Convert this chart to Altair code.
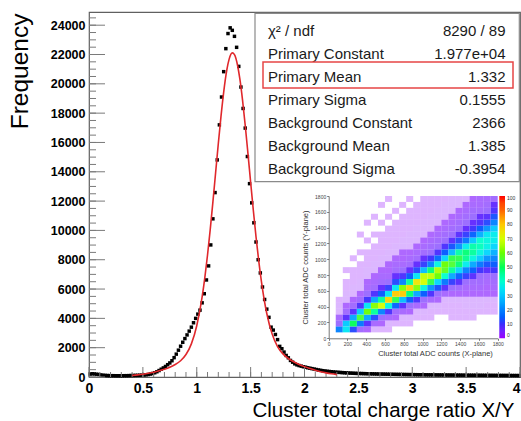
import altair as alt
import pandas as pd

FONT = "Liberation Sans"

# ---------------- main histogram (bin width 0.02 from 0 to 4) ----------------
BIN_START = 0.0
BIN_WIDTH = 0.02
COUNTS = [
    200, 220, 210, 190, 170, 140, 120, 110, 100, 95,
    90, 90, 85, 85, 85, 85, 90, 90, 95, 100,
    105, 110, 115, 120, 125, 135, 150, 170, 200, 240,
    290, 360, 440, 530, 620, 720, 840, 960, 1110, 1320,
    1560, 1830, 2100, 2370, 2620, 2870, 3130, 3400, 3700, 4000,
    4290, 4560, 5060, 5680, 6620, 7580, 9010, 10790, 12580, 14810,
    17200, 19100, 20830, 22400, 23430, 23820, 23650, 23240, 22490, 21190,
    19780, 18320, 16980, 15040, 13190, 11880, 10520, 9210, 8000, 7100,
    6140, 5290, 4630, 4070, 3400, 3200, 2900, 2550, 2090, 1930,
    1700, 1470, 1310, 1130, 1010, 900, 830, 780, 740, 700,
    670, 630, 600, 570, 540, 510, 480, 455, 430, 410,
    390, 375, 360, 345, 330, 320, 310, 300, 290, 280,
    272, 265, 258, 250, 245, 240, 235, 230, 226, 222,
    218, 214, 210, 206, 203, 200, 197, 194, 191, 188,
    185, 182, 180, 177, 175, 172, 170, 168, 165, 163,
    161, 159, 157, 155, 153, 151, 149, 147, 146, 144,
    142, 141, 139, 138, 136, 135, 133, 132, 131, 129,
    128, 127, 126, 124, 123, 122, 121, 120, 119, 118,
    117, 116, 115, 114, 113, 112, 111, 110, 109, 108,
    107, 106, 105, 104, 103, 102, 101, 100, 99, 98,
]
BIN_CENTERS = [round(BIN_START + BIN_WIDTH * (k + 0.5), 3) for k in range(len(COUNTS))]

# fitted curve
FIT_X = [0.40, 0.45, 0.50, 0.55, 0.60, 0.65, 0.70, 0.75, 0.80, 0.85,
         0.90, 0.95, 1.00, 1.05, 1.075, 1.10, 1.125, 1.15, 1.175, 1.20,
         1.225, 1.25, 1.28, 1.30, 1.33, 1.35, 1.38, 1.40, 1.425, 1.45,
         1.475, 1.50, 1.525, 1.55, 1.575, 1.60, 1.625, 1.65, 1.70, 1.75,
         1.80, 1.85, 1.90, 1.95, 2.00, 2.05, 2.10, 2.15, 2.20, 2.25, 2.30]
FIT_Y = [106, 144, 193, 254, 330, 421, 533, 670, 849, 1109,
         1532, 2259, 3497, 5471, 6785, 8321, 10057, 11949, 13931, 15911,
         17780, 19436, 20979, 21667, 22111, 21995, 21217, 20330, 18888, 17157,
         15258, 13298, 11374, 9569, 7938, 6517, 5317, 4334, 2925, 2078,
         1577, 1262, 1038, 859, 708, 575, 461, 364, 283, 216, 163]

Y_MAJOR = [0, 2000, 4000, 6000, 8000, 10000, 12000, 14000, 16000, 18000, 20000, 22000, 24000]
Y_MINOR = list(range(0, 24901, 500))
X_MAJOR = [0, 0.5, 1, 1.5, 2, 2.5, 3, 3.5, 4]
X_MINOR = [round(0.1 * k, 1) for k in range(41)]

STAT_NAMES = ["χ² / ndf", "Primary Constant", "Primary Mean", "Primary Sigma",
              "Background Constant", "Background Mean", "Background Sigma"]
STAT_VALUES = ["8290 / 89", "1.977e+04", "1.332", "0.1555", "2366", "1.385", "-0.3954"]

# ---------------- inset 2D histogram ----------------
INSET_TICKS = [0, 200, 400, 600, 800, 1000, 1200, 1400, 1600, 1800]
COLORBAR_TICKS = [0, 10, 20, 30, 40, 50, 60, 70, 80, 90, 100]
PALETTE_STOPS = [0, 10, 20, 30, 40, 50, 60, 70, 80, 90, 100]
PALETTE_COLORS = ["#9a00ff", "#3a2cff", "#0080ff", "#00c8ff", "#00ffcc", "#00ff55",
                  "#66ff00", "#d4ff00", "#ffc800", "#ff6400", "#ff0000"]
INSET_BIN = 75
# columns along X (0..1800 in steps of 75), each listing Y bins from bottom to top
HEAT = [
    [0, 0, 0, 0, 0, 0, 0, 0, 0, 0, 0, 0, 0, 0, 0, 0, 0, 0, 0, 0, 0, 0, 0, 0],
    [0, 20, 6, 4, 2, 2, 1, 0, 0, 0, 0, 0, 0, 0, 0, 0, 0, 0, 0, 0, 0, 0, 0, 0],
    [0, 35, 30, 8, 5, 3, 2, 2, 1, 1, 0, 1, 0, 0, 0, 0, 0, 0, 0, 0, 0, 0, 0, 0],
    [0, 12, 50, 25, 8, 5, 3, 2, 2, 1, 1, 1, 0, 1, 0, 0, 0, 0, 0, 0, 0, 0, 0, 0],
    [0, 5, 18, 55, 30, 9, 5, 3, 2, 2, 1, 1, 1, 0, 1, 0, 0, 1, 0, 0, 0, 0, 0, 0],
    [0, 3, 8, 25, 60, 35, 10, 6, 4, 3, 2, 2, 1, 1, 1, 0, 1, 0, 0, 1, 0, 0, 0, 0],
    [0, 2, 4, 12, 45, 62, 25, 9, 5, 4, 3, 2, 2, 1, 1, 1, 0, 1, 0, 0, 1, 0, 0, 0],
    [0, 1, 3, 6, 20, 70, 45, 14, 7, 5, 4, 3, 2, 2, 1, 1, 1, 1, 0, 1, 0, 0, 1, 0],
    [0, 1, 2, 4, 9, 38, 78, 35, 11, 6, 4, 3, 3, 2, 2, 1, 1, 1, 1, 0, 1, 0, 0, 1],
    [0, 0, 1, 3, 5, 15, 52, 80, 35, 12, 7, 5, 4, 3, 2, 2, 1, 1, 1, 1, 0, 1, 0, 0],
    [0, 0, 1, 2, 4, 8, 28, 80, 62, 20, 9, 6, 4, 3, 3, 2, 2, 1, 1, 1, 1, 0, 1, 0],
    [0, 0, 1, 2, 3, 6, 14, 48, 78, 45, 14, 7, 5, 4, 3, 2, 2, 2, 1, 1, 1, 1, 0, 1],
    [0, 0, 0, 1, 2, 4, 9, 25, 62, 75, 35, 12, 7, 5, 4, 3, 2, 2, 2, 1, 1, 1, 1, 0],
    [0, 0, 0, 1, 2, 3, 6, 14, 38, 70, 68, 28, 11, 7, 5, 4, 3, 2, 2, 2, 1, 1, 1, 1],
    [0, 0, 0, 1, 1, 2, 4, 9, 22, 52, 68, 48, 20, 10, 6, 5, 4, 3, 2, 2, 2, 1, 1, 1],
    [0, 0, 0, 0, 1, 2, 3, 6, 13, 32, 60, 66, 38, 16, 9, 6, 5, 4, 3, 2, 2, 2, 1, 1],
    [0, 0, 0, 0, 1, 1, 2, 4, 8, 18, 40, 58, 60, 32, 14, 9, 6, 5, 4, 3, 2, 2, 2, 1],
    [0, 0, 0, 1, 1, 1, 2, 3, 6, 11, 25, 45, 56, 52, 28, 13, 8, 6, 5, 4, 3, 2, 2, 2],
    [0, 0, 0, 1, 1, 1, 2, 3, 5, 8, 15, 32, 48, 52, 44, 22, 12, 8, 6, 5, 4, 3, 2, 2],
    [0, 0, 0, 1, 1, 2, 2, 3, 4, 6, 11, 20, 36, 46, 48, 36, 18, 11, 7, 6, 5, 4, 3, 2],
    [0, 0, 0, 1, 1, 2, 2, 3, 4, 5, 8, 14, 25, 38, 45, 44, 30, 15, 10, 7, 6, 5, 4, 3],
    [0, 0, 0, 0, 1, 2, 2, 3, 4, 5, 6, 10, 18, 30, 38, 42, 40, 26, 14, 9, 7, 5, 4, 4],
    [0, 0, 0, 0, 1, 1, 2, 3, 3, 4, 5, 8, 13, 22, 32, 37, 38, 35, 22, 12, 8, 6, 5, 4],
    [0, 0, 0, 0, 1, 1, 2, 3, 4, 5, 6, 10, 14, 20, 26, 32, 36, 36, 30, 20, 13, 9, 7, 5],
]

# ---------------- layout ----------------
W, H = 431, 365
TICK = "#7a7a7a"

xs = alt.Scale(domain=[0, 4], nice=False, zero=False)
ys = alt.Scale(domain=[0, 24900], nice=False, zero=False)

hist_df = pd.DataFrame({"x": BIN_CENTERS, "n": COUNTS})
fit_df = pd.DataFrame({"x": FIT_X, "f": FIT_Y})

x_axis = alt.Axis(values=X_MAJOR, format="~g", labelFont=FONT, labelFontSize=14,
                  labelFontWeight="bold", labelColor="black", labelPadding=4,
                  labelAlign=alt.expr("datum.value >= 4 ? 'right' : 'center'"),
                  labelFlush=False, labelOverlap=False, ticks=False, tickSize=0,
                  domain=False, grid=False,
                  title="Cluster total charge ratio X/Y", titleFont=FONT,
                  titleFontSize=20.5, titleFontWeight="normal", titleColor="black",
                  titleX=425, titleY=39.5, titleAlign="right", titleBaseline="alphabetic")
y_axis = alt.Axis(values=Y_MAJOR, format="d", labelFont=FONT, labelFontSize=12.5,
                  labelFontWeight="bold", labelColor="black", labelPadding=4,
                  labelOverlap=False, labelFlush=False, ticks=False, tickSize=0,
                  domain=False, grid=False,
                  title="Frequency", titleFont=FONT, titleFontSize=24.5,
                  titleFontWeight="normal", titleColor="black", titleAngle=270,
                  titleX=-61.5, titleY=1, titleAlign="right", titleBaseline="alphabetic")


def y_ticks(vals, length):
    return alt.Chart(pd.DataFrame({"v": vals})).mark_rule(color=TICK, strokeWidth=1).encode(
        y=alt.Y("v:Q", scale=ys, axis=y_axis), x=alt.value(0), x2=alt.value(length))


def x_ticks(vals, length):
    return alt.Chart(pd.DataFrame({"v": vals})).mark_rule(color=TICK, strokeWidth=1).encode(
        x=alt.X("v:Q", scale=xs, axis=x_axis), y=alt.value(H), y2=alt.value(H - length))


points = alt.Chart(hist_df).mark_square(size=12, color="black", opacity=1).encode(
    x=alt.X("x:Q", scale=xs, axis=x_axis),
    y=alt.Y("n:Q", scale=ys, axis=y_axis),
)
curve = alt.Chart(fit_df).mark_line(color="#e0282c", strokeWidth=1.6, interpolate="monotone").encode(
    x=alt.X("x:Q", scale=xs, axis=x_axis),
    y=alt.Y("f:Q", scale=ys, axis=y_axis),
)

main = alt.layer(points, y_ticks(Y_MINOR, 7), y_ticks(Y_MAJOR, 16),
                 x_ticks(X_MINOR, 5), x_ticks(X_MAJOR, 10), curve)

# ---------------- inset ----------------
cells = []
for i, col in enumerate(HEAT):
    for j, v in enumerate(col):
        if v > 0:
            cells.append({"x0": i * INSET_BIN, "x1": (i + 1) * INSET_BIN,
                          "y0": j * INSET_BIN, "y1": (j + 1) * INSET_BIN, "v": v})
heat_df = pd.DataFrame(cells)

ix = alt.Scale(domain=[0, 1800], range=[239.7, 408.7], nice=False, zero=False)
iy = alt.Scale(domain=[0, 1800], range=[326.3, 184.0], nice=False, zero=False)

inset_x_axis = alt.Axis(orient="bottom", offset=-38.7, values=INSET_TICKS, format="d",
                        labelFont=FONT, labelFontSize=5, labelColor="#444", labelPadding=1,
                        labelFlush=False, labelOverlap=False, tickSize=2, tickColor="#777",
                        domainColor="#777", grid=False,
                        title="Cluster total ADC counts (X-plane)", titleFont=FONT,
                        titleFontSize=7.5, titleFontWeight="normal", titleColor="#333",
                        titleX=346, titleY=15, titleAlign="center", titleBaseline="middle")
inset_y_axis = alt.Axis(orient="left", offset=-239.7, values=INSET_TICKS, format="d",
                        labelFont=FONT, labelFontSize=5, labelColor="#444", labelPadding=1,
                        labelFlush=False, labelOverlap=False, tickSize=2, tickColor="#777",
                        domainColor="#777", grid=False,
                        title="Cluster total ADC counts (Y-plane)", titleFont=FONT,
                        titleFontSize=7.5, titleFontWeight="normal", titleColor="#333",
                        titleAngle=270, titleX=-23.7, titleY=255, titleAlign="center",
                        titleBaseline="middle")

heat = alt.Chart(heat_df).mark_rect().encode(
    x=alt.X("x0:Q", scale=ix, axis=inset_x_axis),
    x2="x1:Q",
    y=alt.Y("y0:Q", scale=iy, axis=inset_y_axis),
    y2="y1:Q",
    color=alt.Color("v:Q", scale=alt.Scale(domain=PALETTE_STOPS, range=PALETTE_COLORS, clamp=True),
                    legend=alt.Legend(orient="none", legendX=410.3, legendY=184, direction="vertical",
                                      gradientLength=142.3, gradientThickness=5.7, title=None,
                                      values=COLORBAR_TICKS, labelFont=FONT, labelFontSize=5,
                                      labelColor="#333", labelOverlap=False, padding=0, offset=0,
                                      gradientStrokeWidth=0, labelOffset=2)),
    opacity=alt.Opacity("v:Q", scale=alt.Scale(type="threshold", domain=[2.5, 6.5],
                                               range=[0.3, 0.65, 0.95]), legend=None),
)

# ---------------- stats box ----------------
one = pd.DataFrame({"k": [0]})
stats_df = pd.DataFrame({"row": list(range(len(STAT_NAMES))), "name": STAT_NAMES, "val": STAT_VALUES})
row_scale = alt.Scale(domain=[0, 6], range=[18.7, 157.3])

box = alt.Chart(one).mark_rect(fill="white", stroke="#8a8a8a", strokeWidth=1.2).encode(
    x=alt.value(166), x2=alt.value(430.3), y=alt.value(1.3), y2=alt.value(169.7))
names = alt.Chart(stats_df).mark_text(align="left", baseline="middle", font=FONT, fontSize=15,
                                      color="#1a1a1a").encode(
    x=alt.value(179), y=alt.Y("row:Q", scale=row_scale, axis=None), text="name:N")
vals = alt.Chart(stats_df).mark_text(align="right", baseline="middle", font=FONT, fontSize=15,
                                     color="#1a1a1a").encode(
    x=alt.value(416.5), y=alt.Y("row:Q", scale=row_scale, axis=None), text="val:N")
highlight = alt.Chart(one).mark_rect(filled=False, color="#e64545", strokeWidth=1.5).encode(
    x=alt.value(174), x2=alt.value(424), y=alt.value(50), y2=alt.value(76))

stats = alt.layer(box, names, vals, highlight)

chart = alt.layer(main, heat, stats).resolve_scale(
    x="independent", y="independent", color="independent", opacity="independent"
).properties(
    width=W, height=H,
    padding={"left": 89, "top": 12, "right": 1, "bottom": 44},
    autosize=alt.AutoSizeParams(type="none"),
    background="white",
).configure_view(stroke="#606060", strokeWidth=1.2)

chart.save("out.html", embed_options={"renderer": "svg", "actions": False})
